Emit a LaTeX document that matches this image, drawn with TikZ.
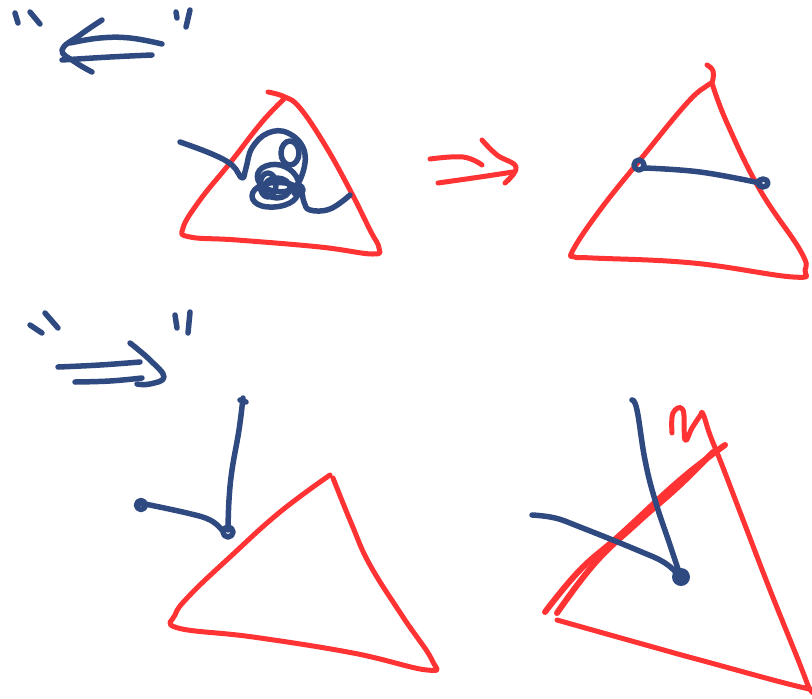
\documentclass[tikz,border=0pt]{standalone}
\definecolor{penblue}{HTML}{2F4A80}
\definecolor{penred}{HTML}{FF3333}
\begin{document}
\begin{tikzpicture}[x=1pt,y=-1pt,
  blu/.style={draw=penblue,line width=5.5pt,line cap=round,line join=round},
  rd/.style={draw=penred,line width=5pt,line cap=round,line join=round},
  sm/.style={smooth,tension=0.7}]
\useasboundingbox (0,0) rectangle (812,699);
% ---------- panel 1: quotes and left arrow ----------
\draw[blu] (15,13) -- (18,23);
\draw[blu] (30,12) -- (40,24);
\draw[blu] (176,12) -- (177,18);
\draw[blu] (190,10) -- (186,27);
\draw[blu] plot[sm] coordinates {(102,20) (80,35) (62,50) (75,62) (92,72)};
\draw[blu] plot[sm] coordinates {(162,44) (130,38) (100,38) (70,43)};
\draw[blu] plot[sm] coordinates {(152,55) (110,57) (62,60)};
% ---------- panel 2: triangle with scribble ----------
\draw[rd] plot[sm] coordinates {(268,92) (285,97) (300,108) (325,145) (350,190) (370,230) (379,248) (372,254) (320,247) (237,240) (190,237) (183,228) (200,200) (230,163) (262,122) (285,98)};
\draw[blu] plot[sm] coordinates {(180,142) (212,154) (232,165) (242,178) (246,168) (252,148) (268,133) (288,133) (304,150) (302,175) (290,190) (270,190) (258,180) (262,168) (280,165) (296,176) (298,194) (285,205) (262,206) (252,196) (262,185) (285,183) (300,190) (304,202) (310,210) (330,209) (350,195)};
\draw[blu] (290,153) ellipse (9 and 12);
\draw[blu] (277,188) ellipse (13 and 10);
\draw[blu] (268,185) ellipse (8 and 12);
\draw[blu] (298,190) circle (5);
% ---------- red arrow ----------
\draw[rd] plot[sm] coordinates {(430,159) (463,157) (482,165)};
\draw[rd] plot[sm] coordinates {(438,183) (480,177) (513,172)};
\draw[rd] plot[sm] coordinates {(482,140) (497,155) (516,167) (505,183)};
% ---------- panel 3: triangle with segment ----------
\draw[rd] plot[sm] coordinates {(707,65) (713,71) (712,83) (708,85) (687,103) (640,160) (600,210) (573,250) (575,257) (593,258) (693,263) (793,277) (805,270) (800,250) (760,190) (727,123) (712,83)};
\draw[blu] (639,165) circle (5);
\draw[blu] plot[sm] coordinates {(644,168) (700,172) (760,183)};
\draw[blu] (763,183) ellipse (5 and 4);
% ---------- panel 4: quotes and right arrow ----------
\draw[blu] (30,325) -- (42,333);
\draw[blu] (45,313) -- (58,328);
\draw[blu] (175,315) -- (177,328);
\draw[blu] (190,312) -- (188,333);
\draw[blu] plot[sm] coordinates {(58,367) (100,365) (140,362)};
\draw[blu] plot[sm] coordinates {(130,343) (150,360) (164,377) (150,384) (137,384)};
\draw[blu] plot[sm] coordinates {(75,382) (110,381) (142,378)};
% ---------- panel 5: vertical line, segment, triangle ----------
\draw[blu] (240,400) -- (246,402);
\draw[blu] plot[sm] coordinates {(243,398) (239,430) (232,470) (229,500) (228,530)};
\draw[blu] (228,532) circle (5);
\draw[blu] plot[sm] coordinates {(140,503) (187,513) (210,520) (222,530)};
\draw[blu] (141,505) circle (4.5);
\draw[rd] plot[sm] coordinates {(330,475) (280,512) (230,557) (190,595) (175,615) (178,628) (253,637) (353,653) (427,670) (432,660) (403,617) (370,565) (352,525) (333,478)};
% ---------- panel 6: triangle with doubled side and mark ----------
\draw[rd] plot[sm] coordinates {(672,433) (673,413) (683,410) (685,440) (692,428) (700,416) (703,414) (710,435) (722,465) (745,525) (770,590) (807,683) (805,688) (700,660) (653,647) (557,620)};
\draw[rd,line width=6pt] plot[sm] coordinates {(545,612) (580,570) (620,535) (680,480) (725,445)};
\draw[rd,line width=6pt] plot[sm] coordinates {(557,613) (595,563) (637,523) (680,485) (713,452)};
\draw[blu] plot[sm] coordinates {(632,400) (637,410) (645,460) (655,500) (670,545) (680,575)};
\draw[blu] plot[sm] coordinates {(532,515) (555,518) (580,527) (637,550) (665,563) (680,577)};
\fill[penblue] (681,577) circle (9);
\end{tikzpicture}
\end{document}
